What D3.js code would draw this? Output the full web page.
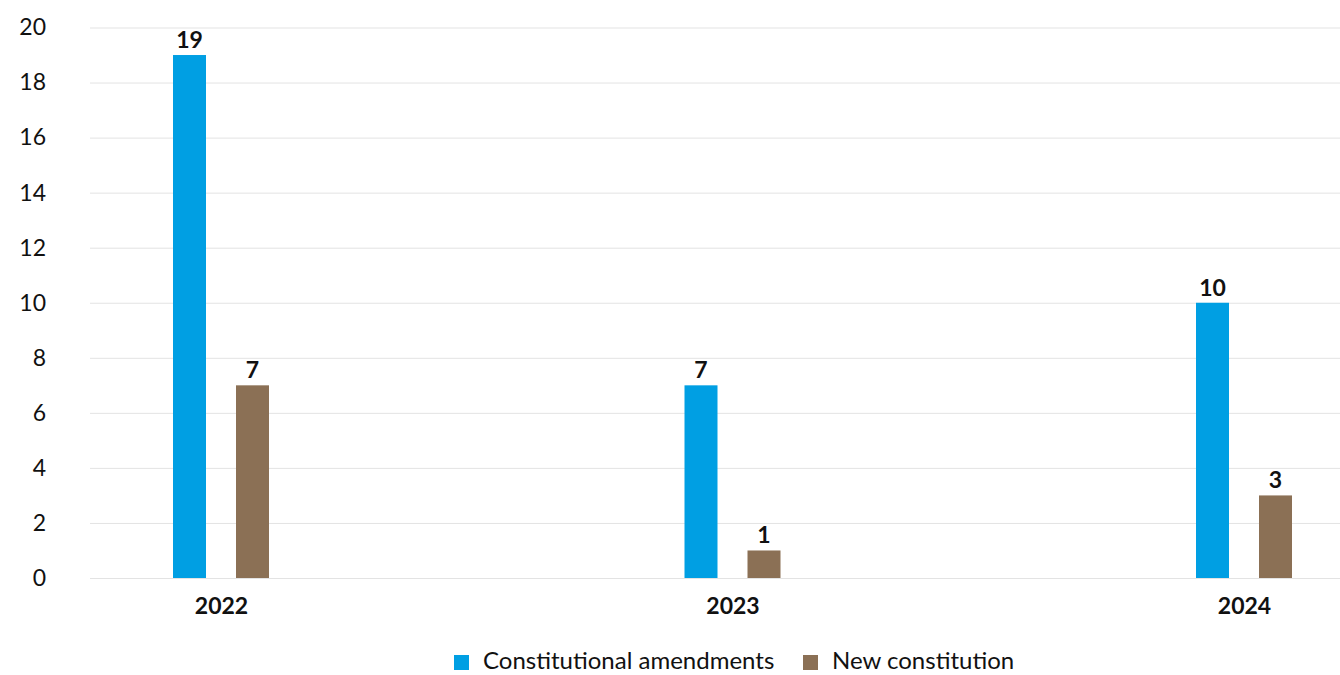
<!DOCTYPE html>
<html>
<head>
<meta charset="utf-8">
<script src="https://cdn.jsdelivr.net/npm/d3@7"></script>
<style>
  html, body { margin: 0; padding: 0; background: #fff; }
  svg { display: block; }
  svg text { font-family: "Lato", "Noto Sans", sans-serif; }
</style>
</head>
<body>
<svg id="chart" width="1340" height="675"></svg>
<script>
// Referendums by year
const years = ["2022", "2023", "2024"];
const seriesNames = ["Constitutional amendments", "New constitution"];
const amendments = [19, 7, 10];
const newConstitution = [7, 1, 3];
const seriesColors = ["#009fe3", "#8b7055"];
const yTicks = [0, 2, 4, 6, 8, 10, 12, 14, 16, 18, 20];

const svg = d3.select("#chart");
const plotLeft = 90, plotRight = 1340;
const FS = "23px";

const y = d3.scaleLinear().domain([0, 20]).range([578, 27.5]);
const x = d3.scalePoint().domain(years).range([221, 1244]);
const barW = 33;
const offsets = [-31.5, 31.5];

// gridlines + y axis labels
const yAxis = d3.axisLeft(y).tickValues(yTicks).tickSize(plotRight - plotLeft).tickFormat(d3.format("d"));
const gy = svg.append("g").attr("transform", `translate(${plotRight},0)`).call(yAxis);
gy.select(".domain").remove();
gy.selectAll(".tick line").attr("stroke", "#e3e3e3").attr("stroke-width", 1);
gy.selectAll(".tick text")
  .attr("fill", "#111")
  .style("font-size", FS)
  .style("font-family", "Lato, 'Noto Sans', sans-serif")
  .attr("x", -(plotRight - 46))
  .attr("text-anchor", "end");

// x axis labels
const xAxis = d3.axisBottom(x).tickSize(0).tickPadding(0);
const gx = svg.append("g").attr("transform", "translate(0,598)").call(xAxis);
gx.select(".domain").remove();
gx.selectAll(".tick text")
  .attr("fill", "#111")
  .style("font-size", FS)
  .style("font-weight", "bold")
  .style("font-family", "Lato, 'Noto Sans', sans-serif")
  .attr("dy", "0.71em");

const data = years.map((yr, i) => ({ year: yr, values: [amendments[i], newConstitution[i]] }));

const groups = svg.append("g").selectAll("g").data(data).join("g")
  .attr("transform", d => `translate(${x(d.year)},0)`);

groups.selectAll("rect").data(d => d.values.map((v, k) => ({ v, k }))).join("rect")
  .attr("x", d => offsets[d.k] - barW / 2)
  .attr("width", barW)
  .attr("y", d => y(d.v))
  .attr("height", d => y(0) - y(d.v))
  .attr("fill", d => seriesColors[d.k]);

groups.selectAll("text.val").data(d => d.values.map((v, k) => ({ v, k }))).join("text")
  .attr("class", "val")
  .attr("x", d => offsets[d.k])
  .attr("y", d => y(d.v) - 7)
  .attr("text-anchor", "middle")
  .style("font-size", FS)
  .style("font-weight", "bold")
  .attr("fill", "#111")
  .text(d => d.v);

// legend
const legend = svg.append("g").attr("transform", "translate(0,669)");
const legendX = [454, 803];
seriesNames.forEach((name, k) => {
  const g = legend.append("g").attr("transform", `translate(${legendX[k]},0)`);
  g.append("rect").attr("x", 0).attr("y", -14).attr("width", 15).attr("height", 15).attr("fill", seriesColors[k]);
  g.append("text").attr("x", 29).attr("y", 0)
    .style("font-size", "24px").attr("fill", "#111").text(name);
});
</script>
</body>
</html>
